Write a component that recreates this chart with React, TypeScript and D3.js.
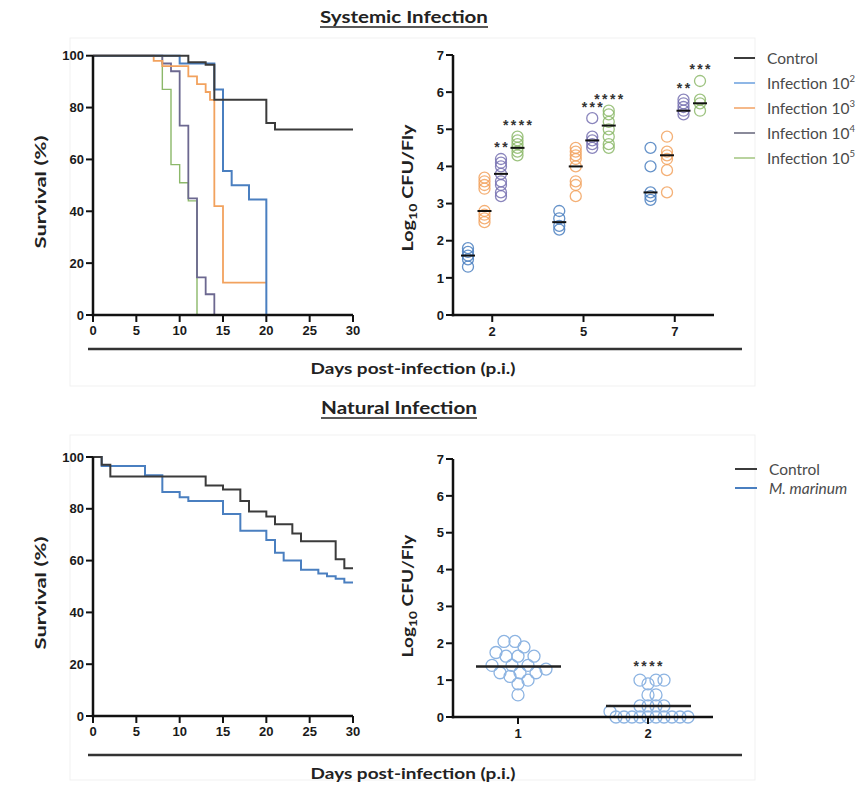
import React, { useLayoutEffect, useRef, useState } from "react";
import * as d3 from "d3";

// ---------------- DATA ----------------
const survivalTicksY = [0, 20, 40, 60, 80, 100];
const survivalTicksX = [0, 5, 10, 15, 20, 25, 30];
const cfuTicksY = [0, 1, 2, 3, 4, 5, 6, 7];

// Systemic infection survival (day, % surviving after that day)
const sysControl: [number, number][] = [[0, 100], [11, 97.5], [13, 96.5], [14, 83], [20, 74], [21, 71.5], [30, 71.5]];
const sys10e2: [number, number][] = [[0, 100], [10, 97], [14, 87], [15, 55.5], [16, 50], [18, 44.5], [20, 0]];
const sys10e3: [number, number][] = [[0, 100], [7, 98], [8, 96], [11, 92], [12, 89], [13, 86], [13.5, 83], [14, 42], [15, 12.5], [20, 12.5]];
const sys10e4: [number, number][] = [[0, 100], [8, 97], [9, 94], [10, 73], [11, 45], [12, 14.5], [13, 8], [14, 0]];
const sys10e5: [number, number][] = [[0, 100], [8, 87], [9, 58], [10, 51], [11, 44], [12, 0]];

// Systemic CFU
const cfuDays = ["2", "5", "7"];
const cfuGroups = ["10e2", "10e3", "10e4", "10e5"];
const cfu10e2 = [[1.3, 1.5, 1.6, 1.7, 1.8], [2.3, 2.4, 2.6, 2.8], [3.1, 3.2, 3.3, 4.0, 4.5]];
const cfu10e3 = [[2.5, 2.6, 2.7, 2.8, 3.4, 3.5, 3.6, 3.7], [3.2, 3.5, 3.6, 4.0, 4.2, 4.3, 4.4, 4.5], [3.3, 3.9, 4.2, 4.3, 4.4, 4.8]];
const cfu10e4 = [[3.2, 3.3, 3.5, 3.6, 3.8, 4.0, 4.1, 4.2], [4.5, 4.6, 4.7, 4.8, 5.3], [5.4, 5.5, 5.6, 5.7, 5.8]];
const cfu10e5 = [[4.3, 4.4, 4.5, 4.6, 4.7, 4.8], [4.5, 4.6, 4.8, 5.0, 5.2, 5.4, 5.5], [5.5, 5.7, 5.8, 6.3]];
const med10e2 = [1.6, 2.5, 3.3];
const med10e3 = [2.8, 4.0, 4.3];
const med10e4 = [3.8, 4.7, 5.5];
const med10e5 = [4.5, 5.1, 5.7];
const sig10e4 = ["**", "***", "**"];
const sig10e5 = ["****", "****", "***"];

// Natural infection survival
const natControl: [number, number][] = [[0, 100], [1, 97], [2, 92.5], [13, 89], [15, 87.5], [17, 83], [18, 79], [20, 77], [21, 74], [23, 70.5], [24, 67.5], [28, 60.5], [29, 57], [30, 57]];
const natMarinum: [number, number][] = [[0, 100], [1, 96.5], [6, 93], [8, 86.5], [10, 84.5], [11, 83], [15, 78], [17, 71.5], [20, 68], [21, 63], [22, 60], [24, 56.5], [26, 55], [27, 54], [28, 53], [29, 51.5], [30, 51.5]];

// Natural infection CFU
const natDays = ["1", "2"];
const natCfu1 = [2.05, 2.05, 1.9, 1.75, 1.65, 1.65, 1.65, 1.4, 1.4, 1.4, 1.3, 1.2, 1.2, 1.2, 1.1, 1.0, 0.9, 0.6];
const natCfu2 = [1.0, 1.0, 1.0, 0.9, 0.6, 0.6, 0.3, 0.3, 0.3, 0.3, 0.15, 0, 0, 0, 0, 0, 0, 0, 0, 0, 0];
const natMedians = [1.37, 0.3];
const natSig = ["", "****"];

// ---------------- STYLE ----------------
const C_CONTROL = "#3b3b3b";
const C_BLUE = "#4a7fc0";
const C_ORANGE = "#f2a25e";
const C_PURPLE = "#7570b0";
const C_GREEN = "#8cb86a";
const C_LIGHTBLUE = "#8db4e2";
const TICK_FONT = "'Liberation Sans Narrow', 'Arial Narrow', Arial, sans-serif";
const LABEL_FONT = "Lato, 'Open Sans', sans-serif";
const TICK_SIZE = 13;

// Text that is stretched/squeezed along its baseline to a target length
function Fit({ x, y, rotate = 0, target, children }: { x: number; y: number; rotate?: number; target: number; children: React.ReactNode }) {
  const ref = useRef<SVGGElement>(null);
  const [k, setK] = useState(1);
  useLayoutEffect(() => {
    if (ref.current) {
      const w = ref.current.getBBox().width;
      if (w > 0) setK(target / w);
    }
  }, [target]);
  return (
    <g transform={`translate(${x},${y}) rotate(${rotate}) scale(${k},1)`}>
      <g ref={ref}>{children}</g>
    </g>
  );
}

function YAxis({ scale, ticks, x }: { scale: d3.ScaleLinear<number, number>; ticks: number[]; x: number }) {
  const [r0, r1] = scale.range();
  return (
    <g>
      <line x1={x} x2={x} y1={r0 + 1.2} y2={r1} stroke="#111" strokeWidth={2.5} />
      {ticks.map((t) => (
        <g key={t}>
          <line x1={x - 7} x2={x} y1={scale(t)} y2={scale(t)} stroke="#111" strokeWidth={2} />
          <text x={x - 9} y={scale(t)} dy="0.36em" textAnchor="end" fontFamily={TICK_FONT} fontWeight="bold" fontSize={TICK_SIZE} fill="#1a1a1a">
            {t}
          </text>
        </g>
      ))}
    </g>
  );
}

function XAxisLinear({ scale, ticks, y }: { scale: d3.ScaleLinear<number, number>; ticks: number[]; y: number }) {
  const [r0, r1] = scale.range();
  return (
    <g>
      <line x1={r0 - 1.2} x2={r1} y1={y} y2={y} stroke="#111" strokeWidth={2.5} />
      {ticks.map((t) => (
        <g key={t}>
          <line x1={scale(t)} x2={scale(t)} y1={y} y2={y + 7} stroke="#111" strokeWidth={2} />
          <text x={scale(t)} y={y + 20} textAnchor="middle" fontFamily={TICK_FONT} fontWeight="bold" fontSize={TICK_SIZE} fill="#1a1a1a">
            {t}
          </text>
        </g>
      ))}
    </g>
  );
}

function XAxisPoint({ scale, y, x0, x1 }: { scale: d3.ScalePoint<string>; y: number; x0: number; x1: number }) {
  return (
    <g>
      <line x1={x0 - 1.2} x2={x1} y1={y} y2={y} stroke="#111" strokeWidth={2.5} />
      {scale.domain().map((t) => (
        <g key={t}>
          <line x1={scale(t)!} x2={scale(t)!} y1={y} y2={y + 7} stroke="#111" strokeWidth={2} />
          <text x={scale(t)!} y={y + 21} textAnchor="middle" fontFamily={TICK_FONT} fontWeight="bold" fontSize={TICK_SIZE} fill="#1a1a1a">
            {t}
          </text>
        </g>
      ))}
    </g>
  );
}

function beeswarm(values: number[], yScale: (v: number) => number, diameter: number) {
  const pts = values.map((v) => ({ v, y: yScale(v), dx: 0 })).sort((a, b) => b.y - a.y);
  const placed: { y: number; dx: number }[] = [];
  for (const p of pts) {
    for (let k = 0; k < 400; k++) {
      const cand = k === 0 ? 0 : k % 2 === 1 ? Math.ceil(k / 2) : -k / 2;
      const ok = placed.every((q) => Math.hypot(q.dx - cand, q.y - p.y) >= diameter);
      if (ok) {
        p.dx = cand;
        break;
      }
    }
    placed.push(p);
  }
  return pts;
}

function Stars({ x, y, text }: { x: number; y: number; text: string }) {
  return (
    <text x={x + 1.2} y={y} textAnchor="middle" fontFamily="Arial, 'Liberation Sans', sans-serif" fontWeight="bold" fontSize={14} fill="#333" letterSpacing={2.4}>
      {text}
    </text>
  );
}

function AxisTitle({ x, y, rotate, target, children }: { x: number; y: number; rotate?: number; target: number; children: React.ReactNode }) {
  return (
    <Fit x={x} y={y} rotate={rotate} target={target}>
      <text x={0} y={0} dy="0.35em" textAnchor="middle" fontFamily={LABEL_FONT} fontWeight="bold" fontSize={15.5} fill="#222">
        {children}
      </text>
    </Fit>
  );
}

export default function App() {
  // ---- top survival
  const sx = d3.scaleLinear().domain([0, 30]).range([93, 353]);
  const sy = d3.scaleLinear().domain([0, 100]).range([315, 55.7]);
  const sysLine = d3.line<[number, number]>().curve(d3.curveStepAfter).x((d) => sx(d[0])).y((d) => sy(d[1]));
  const sysPaths = [
    { d: sysLine(sys10e5), c: C_GREEN, w: 1.4 },
    { d: sysLine(sys10e4), c: "#6c6890", w: 1.8 },
    { d: sysLine(sys10e3), c: C_ORANGE, w: 1.8 },
    { d: sysLine(sys10e2), c: C_BLUE, w: 2 },
    { d: sysLine(sysControl), c: C_CONTROL, w: 2 },
  ];

  // ---- top CFU
  const cy = d3.scaleLinear().domain([0, 7]).range([315, 55]);
  const cx = d3.scalePoint<string>().domain(cfuDays).range([453, 714]).padding(0.43);
  const gOff = d3.scaleBand<string>().domain(cfuGroups).range([-32.5, 33.5]);
  const cfuAll = [cfu10e2, cfu10e3, cfu10e4, cfu10e5];
  const medAll = [med10e2, med10e3, med10e4, med10e5];
  const cfuColors = [C_BLUE, C_ORANGE, C_PURPLE, C_GREEN];
  const sigAll: (string[] | null)[] = [null, null, sig10e4, sig10e5];

  // ---- bottom survival
  const bx = d3.scaleLinear().domain([0, 30]).range([93, 353]);
  const by = d3.scaleLinear().domain([0, 100]).range([716, 457]);
  const natLine = d3.line<[number, number]>().curve(d3.curveStepAfter).x((d) => bx(d[0])).y((d) => by(d[1]));

  // ---- bottom CFU
  const ny = d3.scaleLinear().domain([0, 7]).range([717, 459]);
  const nx = d3.scalePoint<string>().domain(natDays).range([453, 713]).padding(0.5);
  const natGroupsVals = [natCfu1, natCfu2];
  const swarmDiam = [10.5, 8];

  const legendTop = [
    { label: "Control", sup: "", c: C_CONTROL },
    { label: "Infection 10", sup: "2", c: "#8fb7e6" },
    { label: "Infection 10", sup: "3", c: "#f5b98a" },
    { label: "Infection 10", sup: "4", c: "#8a8a9a" },
    { label: "Infection 10", sup: "5", c: "#b9d39f" },
  ];

  const logLabel = (
    <>
      Log<tspan fontSize={11} dy={4}>10</tspan>
      <tspan dy={-4}> CFU/Fly</tspan>
    </>
  );

  return (
    <svg width={863} height={785} viewBox="0 0 863 785" style={{ display: "block", position: "absolute", left: 0, top: 0 }}>
      <rect x={0} y={0} width={863} height={785} fill="#fff" />
      {/* faint panel frames */}
      <rect x={70} y={38} width={685} height={348} fill="none" stroke="#f1f1f1" />
      <rect x={70} y={435} width={685} height={345} fill="none" stroke="#f1f1f1" />

      {/* Titles */}
      <Fit x={404} y={17} target={168}>
        <text x={0} y={0} dy="0.35em" textAnchor="middle" fontFamily={LABEL_FONT} fontWeight="bold" fontSize={17} fill="#222">
          Systemic Infection
        </text>
      </Fit>
      <line x1={320} x2={488} y1={27} y2={27} stroke="#222" strokeWidth={1.5} />
      <Fit x={399} y={408} target={156}>
        <text x={0} y={0} dy="0.35em" textAnchor="middle" fontFamily={LABEL_FONT} fontWeight="bold" fontSize={17} fill="#222">
          Natural Infection
        </text>
      </Fit>
      <line x1={321} x2={477} y1={418} y2={418} stroke="#222" strokeWidth={1.5} />

      {/* ---------- Top survival ---------- */}
      <AxisTitle x={41} y={192} rotate={-90} target={113}>
        Survival (%)
      </AxisTitle>
      {sysPaths.map((p, i) => (
        <path key={i} d={p.d!} fill="none" stroke={p.c} strokeWidth={p.w} />
      ))}
      <YAxis scale={sy} ticks={survivalTicksY} x={sx(0)} />
      <XAxisLinear scale={sx} ticks={survivalTicksX} y={sy(0)} />

      {/* ---------- Top CFU ---------- */}
      <AxisTitle x={408} y={188} rotate={-90} target={128}>
        {logLabel}
      </AxisTitle>
      {cfuDays.map((day, di) =>
        cfuGroups.map((g, gi) => {
          const xc = cx(day)! + gOff(g)! + gOff.bandwidth() / 2;
          const vals = cfuAll[gi][di];
          const sig = sigAll[gi];
          return (
            <g key={day + g}>
              {vals.map((v, k) => (
                <circle key={k} cx={xc} cy={cy(v)} r={5.5} fill="none" stroke={cfuColors[gi]} strokeWidth={1.3} opacity={0.85} />
              ))}
              <line x1={xc - 7} x2={xc + 7} y1={cy(medAll[gi][di])} y2={cy(medAll[gi][di])} stroke="#111" strokeWidth={2} />
              {sig && <Stars x={xc} y={cy(d3.max(vals)! + 0.42) + 9} text={sig[di]} />}
            </g>
          );
        })
      )}
      <YAxis scale={cy} ticks={cfuTicksY} x={453} />
      <XAxisPoint scale={cx} y={cy(0)} x0={453} x1={714} />

      {/* Top legend */}
      {legendTop.map((l, i) => (
        <g key={i} transform={`translate(734,${58 + i * 25})`}>
          <line x1={0} x2={21} y1={0} y2={0} stroke={l.c} strokeWidth={2} />
          <text x={33} y={0} dy="0.36em" fontFamily={LABEL_FONT} fontSize={15.5} fill="#4a4a4a">
            {l.label}
            {l.sup && (
              <tspan fontSize={9.5} dy={-7}>
                {l.sup}
              </tspan>
            )}
          </text>
        </g>
      ))}

      {/* shared axis title top */}
      <line x1={88} x2={742} y1={349} y2={349} stroke="#333" strokeWidth={2.5} />
      <Fit x={413} y={368} target={205}>
        <text x={0} y={0} dy="0.35em" textAnchor="middle" fontFamily={LABEL_FONT} fontWeight="bold" fontSize={16} fill="#222">
          Days post-infection (p.i.)
        </text>
      </Fit>

      {/* ---------- Bottom survival ---------- */}
      <AxisTitle x={41} y={593} rotate={-90} target={113}>
        Survival (%)
      </AxisTitle>
      <path d={natLine(natMarinum)!} fill="none" stroke={C_BLUE} strokeWidth={2} />
      <path d={natLine(natControl)!} fill="none" stroke={C_CONTROL} strokeWidth={2} />
      <YAxis scale={by} ticks={survivalTicksY} x={bx(0)} />
      <XAxisLinear scale={bx} ticks={survivalTicksX} y={by(0)} />

      {/* ---------- Bottom CFU ---------- */}
      <AxisTitle x={408} y={596} rotate={-90} target={124}>
        {logLabel}
      </AxisTitle>
      {natDays.map((day, di) => {
        const xc = nx(day)!;
        const pts = beeswarm(natGroupsVals[di], (v) => ny(v), swarmDiam[di]);
        return (
          <g key={day}>
            {pts.map((p, k) => (
              <circle key={k} cx={xc + p.dx} cy={p.y} r={6} fill="none" stroke={C_LIGHTBLUE} strokeWidth={1.3} />
            ))}
            <line x1={xc - 42} x2={xc + 43} y1={ny(natMedians[di])} y2={ny(natMedians[di])} stroke="#222" strokeWidth={2.5} />
            {natSig[di] && <Stars x={xc} y={ny(1.5) + 9} text={natSig[di]} />}
          </g>
        );
      })}
      <YAxis scale={ny} ticks={cfuTicksY} x={453} />
      <XAxisPoint scale={nx} y={ny(0)} x0={453} x1={713} />

      {/* Bottom legend */}
      {[
        { label: "Control", c: C_CONTROL, italic: false },
        { label: "M. marinum", c: C_BLUE, italic: true },
      ].map((l, i) => (
        <g key={i} transform={`translate(735,${469 + i * 19})`}>
          <line x1={0} x2={22} y1={0} y2={0} stroke={l.c} strokeWidth={2} />
          <text x={34} y={0} dy="0.36em" fontFamily={LABEL_FONT} fontSize={15.5} fill="#4a4a4a" fontStyle={l.italic ? "italic" : "normal"}>
            {l.label}
          </text>
        </g>
      ))}

      {/* shared axis title bottom */}
      <line x1={88} x2={742} y1={755} y2={755} stroke="#333" strokeWidth={2.5} />
      <Fit x={413} y={773} target={205}>
        <text x={0} y={0} dy="0.35em" textAnchor="middle" fontFamily={LABEL_FONT} fontWeight="bold" fontSize={16} fill="#222">
          Days post-infection (p.i.)
        </text>
      </Fit>
    </svg>
  );
}
